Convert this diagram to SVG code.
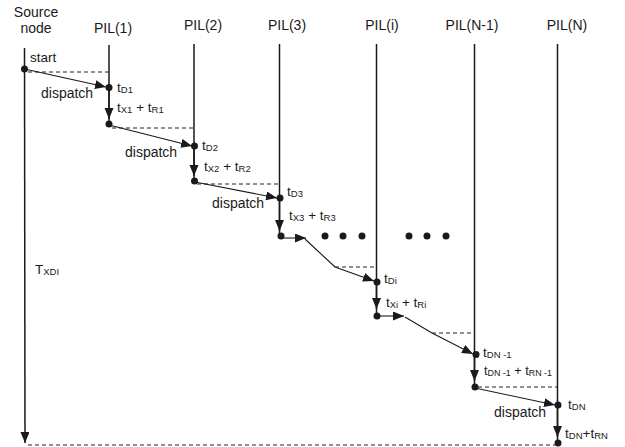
<svg xmlns="http://www.w3.org/2000/svg" width="625" height="447" viewBox="0 0 625 447">
<defs>
<marker id="ah" markerUnits="userSpaceOnUse" markerWidth="12" markerHeight="10" refX="11" refY="4.5" orient="auto">
<path d="M0,0 L11,4.5 L0,9 z" fill="#1a1a1a"/>
</marker>
<style>
text{font-family:"Liberation Sans",Arial,sans-serif;fill:#1a1a1a}
.h{font-size:14px}
.l{font-size:13.5px}
.s{font-size:9.5px}
.life{stroke:#1a1a1a;stroke-width:1.5;fill:none}
.arr{stroke:#1a1a1a;stroke-width:1.1;fill:none;marker-end:url(#ah)}
.dash{stroke:#222;stroke-width:1;stroke-dasharray:4 3;fill:none}
.dot{fill:#1a1a1a}
</style>
</defs>
<rect width="625" height="447" fill="#fff"/>

<g id="source">
<text class="h" x="36" y="17" text-anchor="middle">Source</text>
<text class="h" x="36" y="33" text-anchor="middle">node</text>
<path class="arr" d="M24.5,48 L25,443" style="stroke-width:1.5"/>
<circle class="dot" cx="24.5" cy="69" r="3.5"/>
<text class="l" x="30" y="62">start</text>
<text class="l" x="35" y="274">T<tspan class="s" dy="1">XDI</tspan></text>
</g>

<g id="pil1">
<text class="h" x="113" y="33" text-anchor="middle">PIL(1)</text>
<path class="life" d="M109,45 V124"/>
<path class="arr" d="M109,90 V119" style="stroke-width:1.5"/>
<circle class="dot" cx="109" cy="87.5" r="3.5"/>
<circle class="dot" cx="109" cy="124" r="3.5"/>
<text class="l" x="117" y="92">t<tspan class="s" dy="1">D1</tspan></text>
<text class="l" x="117" y="112">t<tspan class="s" dy="1">X1</tspan><tspan dy="-1"> + t</tspan><tspan class="s" dy="1">R1</tspan></text>
</g>

<g id="pil2">
<text class="h" x="203" y="30" text-anchor="middle">PIL(2)</text>
<path class="life" d="M194,44 V181"/>
<path class="arr" d="M194,149 V176" style="stroke-width:1.5"/>
<circle class="dot" cx="194.5" cy="146" r="3.5"/>
<circle class="dot" cx="194.5" cy="181" r="3.5"/>
<text class="l" x="202" y="150">t<tspan class="s" dy="1">D2</tspan></text>
<text class="l" x="204" y="171">t<tspan class="s" dy="1">X2</tspan><tspan dy="-1"> + t</tspan><tspan class="s" dy="1">R2</tspan></text>
</g>

<g id="pil3">
<text class="h" x="287" y="30" text-anchor="middle">PIL(3)</text>
<path class="life" d="M279.5,44 V236"/>
<path class="arr" d="M279.5,201 V231" style="stroke-width:1.5"/>
<circle class="dot" cx="280" cy="198" r="3.5"/>
<circle class="dot" cx="281" cy="236" r="3.5"/>
<text class="l" x="287" y="196">t<tspan class="s" dy="1">D3</tspan></text>
<text class="l" x="289" y="220">t<tspan class="s" dy="1">X3</tspan><tspan dy="-1"> + t</tspan><tspan class="s" dy="1">R3</tspan></text>
</g>

<g id="ellipsis">
<circle class="dot" cx="325" cy="236" r="3.5"/>
<circle class="dot" cx="343" cy="236" r="3.5"/>
<circle class="dot" cx="362" cy="236" r="3.5"/>
<circle class="dot" cx="409" cy="236" r="3.5"/>
<circle class="dot" cx="427" cy="236" r="3.5"/>
<circle class="dot" cx="446" cy="236" r="3.5"/>
</g>

<g id="pili">
<text class="h" x="382" y="30" text-anchor="middle">PIL(i)</text>
<path class="life" d="M376.5,44 V317"/>
<path class="arr" d="M376.5,285 V309" style="stroke-width:1.5"/>
<circle class="dot" cx="377" cy="282" r="3.5"/>
<circle class="dot" cx="377" cy="316" r="3.5"/>
<text class="l" x="384" y="283">t<tspan class="s" dy="1">Di</tspan></text>
<text class="l" x="386" y="307">t<tspan class="s" dy="1">Xi</tspan><tspan dy="-1"> + t</tspan><tspan class="s" dy="1">Ri</tspan></text>
</g>

<g id="pilN1">
<text class="h" x="472" y="30" text-anchor="middle">PIL(N-1)</text>
<path class="life" d="M474.5,44 V387"/>
<path class="arr" d="M474.5,357 V381" style="stroke-width:1.5"/>
<circle class="dot" cx="476" cy="354.5" r="3.5"/>
<circle class="dot" cx="475" cy="387" r="3.5"/>
<text class="l" x="483" y="357">t<tspan class="s" dy="1">DN -1</tspan></text>
<text class="l" x="484" y="375" textLength="68" lengthAdjust="spacingAndGlyphs">t<tspan class="s" dy="1">DN -1</tspan><tspan dy="-1"> + t</tspan><tspan class="s" dy="1">RN -1</tspan></text>
</g>

<g id="pilN">
<text class="h" x="567" y="30" text-anchor="middle">PIL(N)</text>
<path class="life" d="M557.5,44 V443"/>
<path class="arr" d="M557.5,408 V437" style="stroke-width:1.5"/>
<circle class="dot" cx="558" cy="405" r="3.5"/>
<circle class="dot" cx="558" cy="443" r="3.5"/>
<text class="l" x="568" y="409">t<tspan class="s" dy="1">DN</tspan></text>
<text class="l" x="565" y="438">t<tspan class="s" dy="1">DN</tspan><tspan dy="-1">+t</tspan><tspan class="s" dy="1">RN</tspan></text>
</g>

<g id="connectors">
<path class="dash" d="M28,72 H109"/>
<path class="arr" d="M24.5,69 L106,87"/>
<text class="h" x="41" y="98">dispatch</text>

<path class="dash" d="M112,128 H194"/>
<path class="arr" d="M109,125 L192,146"/>
<text class="h" x="125" y="157">dispatch</text>

<path class="dash" d="M197,184 H279"/>
<path class="arr" d="M195,182 L277,198"/>
<text class="h" x="212" y="208">dispatch</text>

<path class="arr" d="M281,238 H306"/>
<path class="arr" d="M305,239 L335,267 L374,281"/>
<path class="dash" d="M335,267 H376"/>

<path class="arr" d="M377,316 H404"/>
<path class="arr" d="M405,317 L432,333 L473,354"/>
<path class="dash" d="M432,333 H474"/>

<path class="dash" d="M478,387 H557"/>
<path class="arr" d="M475,388 L555,405"/>
<text class="h" x="494" y="417">dispatch</text>

<path class="dash" d="M28,445 H555"/>
</g>
</svg>
